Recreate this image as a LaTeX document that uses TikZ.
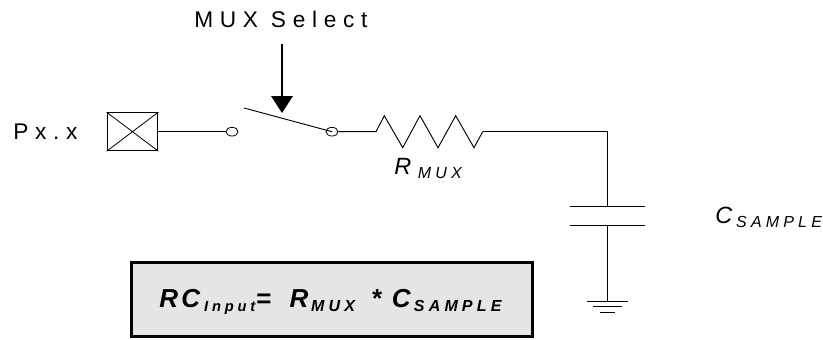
\documentclass[tikz,border=0pt]{standalone}
\usepackage{fontspec}
\usetikzlibrary{shapes.geometric}
\setmainfont{Liberation Sans}
\newfontfamily\spA[LetterSpace=26]{Liberation Sans}
\newfontfamily\spB[LetterSpace=29.5]{Liberation Sans}
\newcommand{\subtx}[1]{\raisebox{-3pt}{\spA\fontsize{12}{14}\selectfont #1}}
\newcommand{\subeq}[2][12]{\raisebox{-3pt}{\spA\bfseries\itshape\fontsize{#1}{14}\selectfont #2}}
\begin{document}
\begin{tikzpicture}[x=0.75pt,y=-0.75pt,
  wire/.style={line width=0.7pt,black},
  term/.style={ellipse,draw,line width=0.6pt,minimum width=9pt,minimum height=6.5pt,inner sep=0pt,fill=white},
  lbl/.style={inner sep=0pt,font=\spB\fontsize{17}{19}\selectfont,anchor=base west},
  ilbl/.style={inner sep=0pt,font=\itshape\fontsize{17.6}{20}\selectfont,anchor=base west}]
\useasboundingbox (0,0) rectangle (823,339);
\node[draw,line width=0.8pt,minimum width=38pt,minimum height=28.5pt,inner sep=0pt] (box) at (132.5,131.7) {};
\draw[line width=0.6pt] (box.north west)--(box.south east) (box.south west)--(box.north east);
\node[term] (t1) at (232,131.7) {};
\node[term] (t2) at (332,131.7) {};
\draw[wire] (box.east) -- (t1.west);
\coordinate (swa) at (244,108);
\draw[wire] (swa) -- (t2.center);
\coordinate (r0) at (376,131.7);
\coordinate (r1) at (482.7,131.7);
\draw[wire] (t2.east) -- (r0) -- (384.3,115.7) -- (402.7,147.7) -- (420,115.7) -- (438,147.7) -- (455.7,115.7) -- (474,147.7) -- (r1);
\coordinate (corner) at (607.5,131.7);
\coordinate (pt) at (607.5,206);
\coordinate (pb) at (607.5,225);
\coordinate (gnd) at (607.5,301);
\draw[wire] (r1) -- (corner) -- (pt);
\draw[wire] (570,206) -- (645,206);
\draw[wire] (570,225) -- (645,225);
\draw[wire] (pb) -- (gnd);
\draw[wire] (587,301) -- (628,301);
\draw[wire] (593,306) -- (622,306);
\draw[wire] (600,312) -- (615,312);
\coordinate (as) at (282,44);
\coordinate (ah) at (282,97);
\coordinate (at) at (282,113);
\draw[line width=0.9pt] (as) -- (ah);
\fill (271,96) -- (293,96) -- (at) -- cycle;
\node[lbl] (mux) at (194,27) {MUX Select};
\node[lbl] (px) at (13,139) {Px.x};
\node[ilbl] (rm) at (394,174) {R\kern5pt\subtx{\itshape MUX}};
\node[ilbl] (cs) at (715,223) {C\kern3pt\subtx{\itshape SAMPLE}};
\node[draw=black,line width=2.2pt,fill=black!10,minimum width=301pt,minimum height=56pt,inner sep=0pt] (eq) at (332,299.5) {};
\node[inner sep=0pt,anchor=base west,font=\bfseries\itshape\fontsize{19.5}{22}\selectfont] (eqt) at (159,307) {R\kern2.5pt C\kern3pt\subeq[11]{Input}\kern0.5pt=\kern14pt R\kern2pt\subeq{MUX}\kern12pt*\kern8pt C\kern2.5pt\subeq{SAMPLE}};
\end{tikzpicture}
\end{document}
